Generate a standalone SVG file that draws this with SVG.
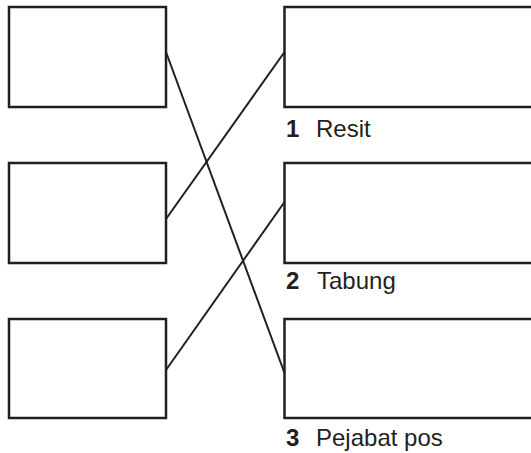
<svg xmlns="http://www.w3.org/2000/svg" width="531" height="453" viewBox="0 0 531 453">
<style>
.box{fill:#fff;stroke:#231f20;stroke-width:2.5}
.ln{stroke:#231f20;stroke-width:2;fill:none}
.lbl{font-family:"Liberation Sans",Arial,sans-serif;font-size:24px;fill:#231f20}
.num{font-weight:bold}
</style>
<rect width="531" height="453" fill="#fff"/>
<g id="left1"><rect class="box" x="9" y="7" width="157" height="100"/></g>
<g id="left2"><rect class="box" x="9" y="163" width="157" height="100"/></g>
<g id="left3"><rect class="box" x="9" y="319" width="157" height="99"/></g>
<g id="right1"><rect class="box" x="284.5" y="7" width="260" height="100"/><text class="lbl" x="286" y="137"><tspan class="num">1</tspan><tspan x="316">Resit</tspan></text></g>
<g id="right2"><rect class="box" x="284.5" y="163" width="260" height="100"/><text class="lbl" x="286" y="289"><tspan class="num">2</tspan><tspan x="317">Tabung</tspan></text></g>
<g id="right3"><rect class="box" x="284.5" y="319" width="260" height="99"/><text class="lbl" x="286" y="446"><tspan class="num">3</tspan><tspan x="316">Pejabat pos</tspan></text></g>
<g id="connectors">
<line class="ln" x1="166" y1="52" x2="284.5" y2="373"/>
<line class="ln" x1="166" y1="219" x2="284.5" y2="52"/>
<line class="ln" x1="166" y1="370" x2="284.5" y2="202"/>
</g>
</svg>
